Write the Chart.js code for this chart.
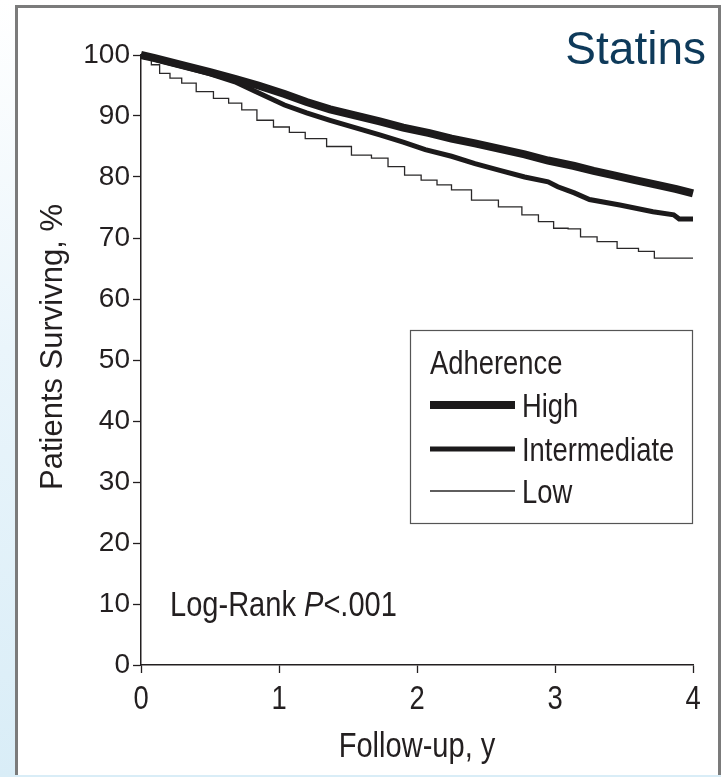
<!DOCTYPE html>
<html>
<head>
<meta charset="utf-8">
<script src="https://cdn.jsdelivr.net/npm/chart.js@4.4.1/dist/chart.umd.min.js"></script>
<style>
  html, body { margin: 0; padding: 0; }
  #wrap { position: relative; width: 721px; height: 777px; overflow: hidden;
          background: linear-gradient(to bottom, #ffffff 0%, #eaf5fb 45%, #d9edf7 100%); }
  #panel { position: absolute; left: 15px; top: 5px; width: 706px; height: 770px;
           box-sizing: border-box; background: #fff;
           border: 3px solid #7b7b7b; border-bottom: none; }
  #chart { position: absolute; left: 0; top: 0; }
</style>
</head>
<body>
<div id="wrap">
  <div id="panel"></div>
  <canvas id="chart" width="721" height="777"></canvas>
</div>
<script>
// Kaplan-Meier style survival
const highYears = [0, 0.1, 0.32, 0.5, 0.68, 0.85, 1.04, 1.2, 1.37, 1.55, 1.73, 1.9, 2.09, 2.25, 2.42, 2.6, 2.78, 2.95, 3.14, 3.28, 3.42, 3.58, 3.74, 3.88, 4.0];
const highValues = [100, 99.5, 98.2, 97.2, 96.1, 95.0, 93.6, 92.3, 91.1, 90.1, 89.1, 88.1, 87.2, 86.3, 85.5, 84.6, 83.7, 82.7, 81.8, 81.0, 80.3, 79.5, 78.7, 78.0, 77.3];

const interYears = [0, 0.1, 0.32, 0.5, 0.68, 0.83, 1.04, 1.2, 1.37, 1.55, 1.73, 1.9, 2.06, 2.25, 2.42, 2.6, 2.78, 2.95, 3.02, 3.14, 3.25, 3.47, 3.71, 3.86, 3.9, 4.0];
const interValues = [100, 99.3, 98.0, 96.9, 95.6, 94.0, 91.8, 90.5, 89.3, 88.1, 86.9, 85.7, 84.5, 83.4, 82.2, 81.1, 80.0, 79.2, 78.4, 77.4, 76.3, 75.4, 74.3, 73.8, 73.1, 73.1];

const lowYears = [0, 0.05, 0.1, 0.17, 0.25, 0.34, 0.46, 0.59, 0.68, 0.78, 0.9, 1.02, 1.13, 1.25, 1.44, 1.61, 1.73, 1.85, 1.97, 2.09, 2.2, 2.3, 2.49, 2.69, 2.83, 2.93, 3.05, 3.14, 3.23, 3.38, 3.52, 3.69, 3.75, 4.0];
const lowValues = [100, 99.3, 98.4, 97.0, 96.2, 95.4, 94.0, 92.9, 92.1, 91.0, 89.3, 88.2, 87.3, 86.3, 85.0, 83.6, 83.1, 81.7, 80.3, 79.5, 78.7, 77.9, 76.2, 75.1, 73.8, 72.7, 71.6, 71.5, 70.2, 69.4, 68.3, 67.8, 66.7, 66.7];

const seriesNames = ['High', 'Intermediate', 'Low'];
const xTicks = [0, 1, 2, 3, 4];
const yTicks = [0, 10, 20, 30, 40, 50, 60, 70, 80, 90, 100];

const ink = '#231f20';
const sans = '"Liberation Sans", Arial, sans-serif';
const squeeze = 0.83; // the figure's text is a condensed face

function toPoints(xs, ys) {
    return xs.map((x, i) => ({ x: x, y: ys[i] }));
}

// draw text horizontally condensed; returns drawn width
function narrowText(ctx, text, x, y, size, align, style) {
    ctx.save();
    ctx.font = (style ? style + ' ' : '') + size + 'px ' + sans;
    ctx.textAlign = align || 'left';
    ctx.textBaseline = 'alphabetic';
    ctx.translate(x, y);
    ctx.scale(squeeze, 1);
    ctx.fillText(text, 0, 0);
    const w = ctx.measureText(text).width * squeeze;
    ctx.restore();
    return w;
}

const extras = {
    id: 'extras',
    afterDraw(chart) {
        const { ctx } = chart;
        const xs = chart.scales.x;
        ctx.save();
        ctx.fillStyle = ink;

        // x tick labels and title
        xTicks.forEach(v => narrowText(ctx, String(v), xs.getPixelForValue(v), 709, 33, 'center'));
        narrowText(ctx, 'Follow-up, y', 417, 757, 35, 'center');

        // y title
        ctx.save();
        ctx.translate(62, 347);
        ctx.rotate(-Math.PI / 2);
        ctx.font = '31px ' + sans;
        ctx.textAlign = 'center';
        ctx.textBaseline = 'alphabetic';
        ctx.fillText('Patients Survivng, %', 0, 0);
        ctx.restore();

        // title
        ctx.fillStyle = '#0e3a5a';
        ctx.font = '46px ' + sans;
        ctx.textAlign = 'right';
        ctx.textBaseline = 'alphabetic';
        ctx.fillText('Statins', 706, 64);

        // legend box
        const bx = 410, by = 330, bw = 282, bh = 193;
        ctx.strokeStyle = '#555';
        ctx.lineWidth = 1.2;
        ctx.strokeRect(bx + 0.5, by + 0.5, bw, bh);
        ctx.fillStyle = ink;
        narrowText(ctx, 'Adherence', 430, 374, 33);
        const rowY = [405, 449, 491];
        chart.data.datasets.forEach((ds, i) => {
            ctx.strokeStyle = ds.borderColor;
            ctx.lineWidth = ds.borderWidth;
            ctx.beginPath();
            ctx.moveTo(430, rowY[i]);
            ctx.lineTo(515, rowY[i]);
            ctx.stroke();
            narrowText(ctx, ds.label, 522, rowY[i] + 12, 33);
        });

        // log-rank note
        let x = 170;
        const y = 616;
        x += narrowText(ctx, 'Log-Rank ', x, y, 35);
        x += narrowText(ctx, 'P', x, y, 35, 'left', 'italic');
        narrowText(ctx, '<.001', x, y, 35);
        ctx.restore();
    }
};

const ctx = document.getElementById('chart');
new Chart(ctx, {
    type: 'line',
    data: {
        datasets: [{
            label: seriesNames[0],
            data: toPoints(highYears, highValues),
            borderColor: '#1c1a1b',
            borderWidth: 8,
            tension: 0,
        }, {
            label: seriesNames[1],
            data: toPoints(interYears, interValues),
            borderColor: '#1c1a1b',
            borderWidth: 5,
            tension: 0,
        }, {
            label: seriesNames[2],
            data: toPoints(lowYears, lowValues),
            borderColor: '#2a2829',
            borderWidth: 1.3,
            stepped: 'middle',
        }]
    },
    options: {
        responsive: false,
        animation: false,
        layout: {
            padding: { top: 55, right: 28, left: 0, bottom: 0 }
        },
        elements: {
            point: { radius: 0 },
            line: { borderCapStyle: 'butt', borderJoinStyle: 'miter' }
        },
        datasets: {
            line: { clip: false }
        },
        scales: {
            x: {
                type: 'linear',
                min: 0,
                max: 4,
                afterFit: (s) => { s.height = 112; },
                afterBuildTicks: (s) => { s.ticks = xTicks.map(v => ({ value: v })); },
                border: { display: true, color: ink, width: 1.5 },
                grid: { drawOnChartArea: false, drawTicks: true, tickLength: 8, tickColor: ink, tickWidth: 1.3 },
                ticks: {
                    color: 'rgba(0,0,0,0)',
                    maxRotation: 0,
                    font: { size: 30, family: sans }
                },
                title: { display: false }
            },
            y: {
                min: 0,
                max: 100,
                afterFit: (s) => { s.width = 141; },
                afterBuildTicks: (s) => { s.ticks = yTicks.map(v => ({ value: v })); },
                border: { display: true, color: ink, width: 1.5 },
                grid: { drawOnChartArea: false, drawTicks: true, tickLength: 8, tickColor: ink, tickWidth: 1.3 },
                ticks: {
                    color: ink,
                    padding: 3,
                    font: { size: 28, family: sans }
                },
                title: { display: false }
            }
        },
        plugins: {
            legend: { display: false },
            title: { display: false },
            tooltip: { enabled: false }
        }
    },
    plugins: [extras]
});
</script>
</body>
</html>
